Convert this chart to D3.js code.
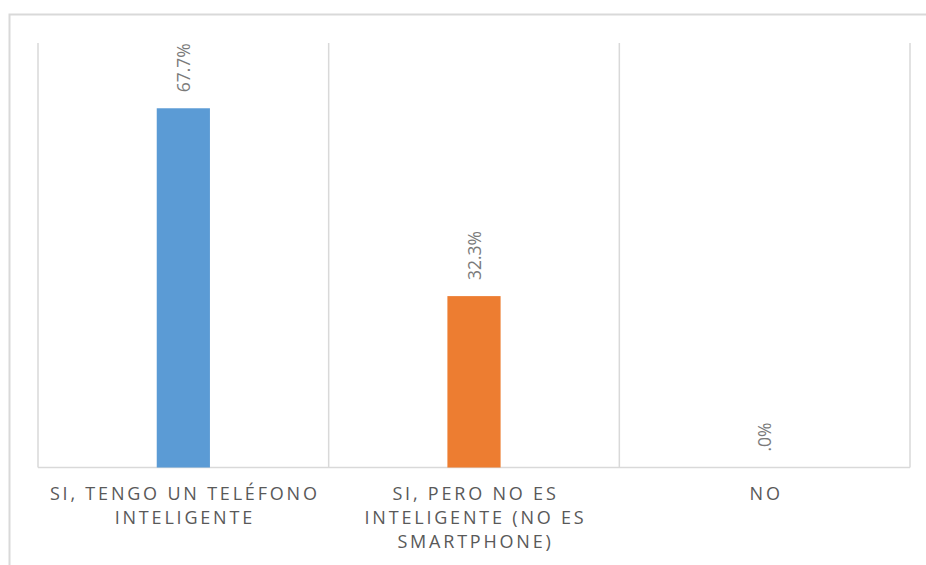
<!DOCTYPE html>
<html><head><meta charset="utf-8">
<script src="https://cdn.jsdelivr.net/npm/d3@7"></script>
<style>html,body{margin:0;padding:0;background:#fff;}svg{display:block;}</style>
</head><body>
<svg id="chart" width="926" height="565"></svg>
<script>
const categories = ["SI, TENGO UN TELÉFONO\nINTELIGENTE", "SI, PERO NO ES\nINTELIGENTE (NO ES\nSMARTPHONE)", "NO"];
const values = [67.7, 32.3, 0.0];
const valueLabels = ["67.7%", "32.3%", ".0%"];
const colors = ["#5B9BD5", "#ED7D31", "#A5A5A5"];
const yDomain = [0, 80];

const svg = d3.select("#chart");
const plot = {left: 38, right: 910, top: 43, bottom: 467.5};

// outer chart border (partially clipped)
svg.append("rect").attr("x", 9.5).attr("y", 14.5).attr("width", 960).attr("height", 600)
  .attr("fill", "none").attr("stroke", "#d9d9d9").attr("stroke-width", 2);

const x = d3.scaleBand().domain(d3.range(categories.length)).range([plot.left, plot.right]).padding(0);
const y = d3.scaleLinear().domain(yDomain).range([plot.bottom, plot.top]);

// vertical gridlines at band edges
const edges = d3.range(categories.length + 1).map(i => i < categories.length ? x(i) : x(i - 1) + x.bandwidth());
svg.append("g").selectAll("line").data(edges).join("line")
  .attr("x1", d => d).attr("x2", d => d).attr("y1", plot.top).attr("y2", plot.bottom)
  .attr("stroke", "#d9d9d9").attr("stroke-width", 1.5);

// baseline
svg.append("line").attr("x1", plot.left).attr("x2", plot.right).attr("y1", plot.bottom).attr("y2", plot.bottom)
  .attr("stroke", "#d9d9d9").attr("stroke-width", 1.5);

const barW = x.bandwidth() * 0.183;
const cx = i => x(i) + x.bandwidth() / 2;

svg.append("g").selectAll("rect").data(values).join("rect")
  .attr("x", (d, i) => cx(i) - barW / 2)
  .attr("width", barW)
  .attr("y", d => y(d))
  .attr("height", d => y(0) - y(d))
  .attr("fill", (d, i) => colors[i]);

// data labels (rotated)
svg.append("g").selectAll("text").data(values).join("text")
  .attr("transform", (d, i) => `translate(${cx(i) + 0.5},${y(d) - 16}) rotate(-90)`)
  .attr("dy", "0.36em")
  .attr("text-anchor", "start")
  .attr("font-family", "'Open Sans', sans-serif")
  .attr("font-size", 17.5)
  .attr("fill", "#7a7a7a")
  .text((d, i) => valueLabels[i]);

// category labels
const cat = svg.append("g").selectAll("text").data(categories).join("text")
  .attr("x", (d, i) => cx(i))
  .attr("y", 500)
  .attr("text-anchor", "middle")
  .attr("font-family", "'Open Sans', sans-serif")
  .attr("font-size", 18)
  .attr("letter-spacing", "2.8px")
  .attr("fill", "#595959");
cat.each(function(d, i) {
  const lines = d.split("\n");
  d3.select(this).selectAll("tspan").data(lines).join("tspan")
    .attr("x", cx(i) + 1.5)
    .attr("dy", (l, j) => j === 0 ? 0 : 24)
    .text(l => l);
});
</script>
</body></html>
